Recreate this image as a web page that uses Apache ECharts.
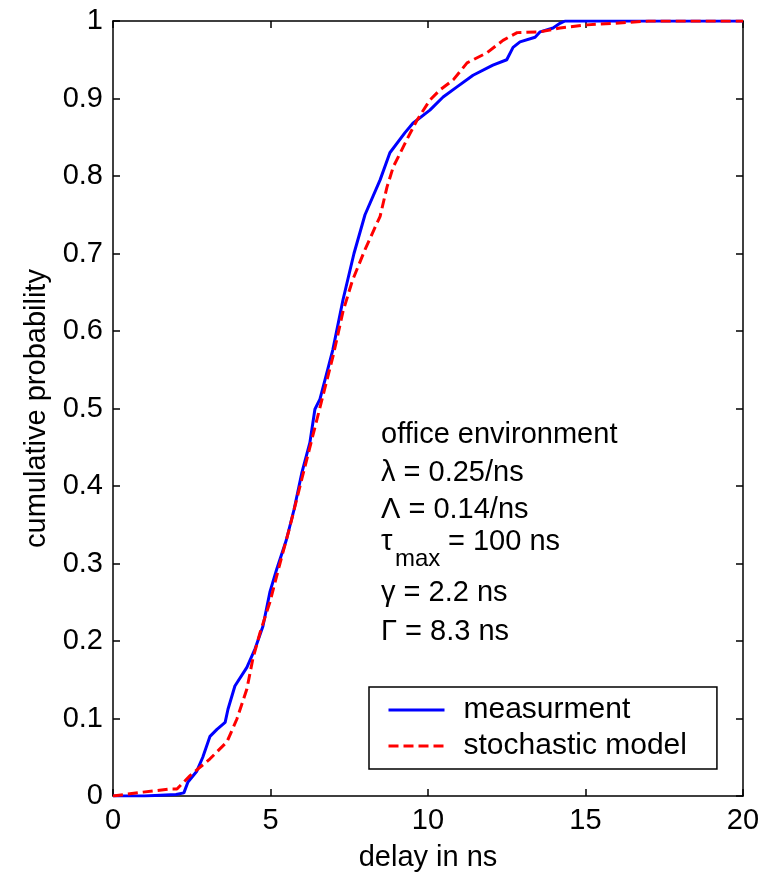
<!DOCTYPE html>
<html>
<head>
<meta charset="utf-8">
<script src="https://cdn.jsdelivr.net/npm/echarts@6/dist/echarts.min.js"></script>
<style>
html,body{margin:0;padding:0;background:#fff;}
#chart{width:773px;height:877px;}
</style>
</head>
<body>
<div id="chart"></div>
<script>
// ---- data ----
const seriesNames = ['measurment', 'stochastic model'];
const xTicks = ['0', '5', '10', '15', '20'];
const yTicks = ['0', '0.1', '0.2', '0.3', '0.4', '0.5', '0.6', '0.7', '0.8', '0.9', '1'];
const xAxisTitle = 'delay in ns';
const yAxisTitle = 'cumulative probability';

const measX = [0, 1.0, 2.0, 2.25, 2.38, 2.66, 2.85, 3.08, 3.3, 3.56, 3.65, 3.87, 4.25, 4.51, 4.76, 4.98, 5.2, 5.5, 5.75, 6.0, 6.25, 6.41, 6.57, 6.73, 6.98, 7.3, 7.65, 8.0, 8.48, 8.79, 9.27, 9.52, 10.06, 10.48, 10.92, 11.43, 12.06, 12.5, 12.7, 12.92, 13.4, 13.56, 13.97, 14.19, 14.35, 20];
const measY = [0, 0, 0.002, 0.004, 0.018, 0.032, 0.05, 0.077, 0.086, 0.095, 0.112, 0.142, 0.166, 0.19, 0.219, 0.263, 0.293, 0.33, 0.37, 0.418, 0.456, 0.499, 0.512, 0.537, 0.576, 0.64, 0.70, 0.75, 0.795, 0.83, 0.856, 0.868, 0.885, 0.902, 0.915, 0.93, 0.943, 0.95, 0.966, 0.973, 0.979, 0.986, 0.991, 0.997, 1, 1];

const modelX = [0, 0.95, 1.8, 2.03, 2.44, 3.08, 3.62, 3.93, 4.25, 4.44, 4.67, 4.98, 5.3, 5.6, 6.0, 6.5, 7.0, 7.3, 7.6, 8.0, 8.48, 8.7, 8.9, 9.33, 9.65, 10.06, 10.38, 10.8, 11.24, 11.87, 12.38, 12.83, 13.56, 14.19, 15.05, 15.9, 17, 20];
const modelY = [0, 0.005, 0.009, 0.009, 0.026, 0.048, 0.07, 0.099, 0.138, 0.177, 0.211, 0.25, 0.30, 0.345, 0.41, 0.49, 0.57, 0.625, 0.665, 0.705, 0.748, 0.786, 0.812, 0.847, 0.872, 0.898, 0.911, 0.924, 0.946, 0.959, 0.975, 0.985, 0.986, 0.991, 0.995, 0.997, 1, 1];

const annotLines = ['office environment', 'λ = 0.25/ns', 'Λ = 0.14/ns', 'τ', 'max', '= 100 ns', 'γ = 2.2 ns', 'Γ = 8.3 ns'];

// ---- chart ----
const FONT = '"Liberation Sans", Arial, sans-serif';
const FS = 29;
const chart = echarts.init(document.getElementById('chart'), null, {renderer: 'canvas'});

const tickStyle = {show: true, inside: true, length: 7, lineStyle: {color: '#000', width: 1.5}};
const lineStyle = {show: true, onZero: false, lineStyle: {color: '#000', width: 1.5}};

function txt(text, left, cy, size) {
  return {
    type: 'text', left: left, top: cy - (size || FS) / 2,
    style: {text: text, font: (size || FS) + 'px ' + FONT, fill: '#000'}
  };
}

const option = {
  backgroundColor: '#fff',
  animation: false,
  grid: {left: 113, top: 21, width: 630, height: 776, containLabel: false},
  xAxis: [{
    type: 'value', position: 'bottom', min: 0, max: 20, interval: 5,
    axisLine: lineStyle, axisTick: tickStyle, splitLine: {show: false},
    axisLabel: {color: '#000', fontSize: FS, fontFamily: FONT, margin: 10,
      formatter: v => xTicks[Math.round(v / 5)]},
    name: xAxisTitle, nameLocation: 'middle', nameGap: 47,
    nameTextStyle: {color: '#000', fontSize: FS, fontFamily: FONT}
  }, {
    type: 'value', position: 'top', min: 0, max: 20, interval: 5,
    axisLine: lineStyle, axisTick: tickStyle, splitLine: {show: false},
    axisLabel: {show: false}
  }],
  yAxis: [{
    type: 'value', position: 'left', min: 0, max: 1, interval: 0.1,
    axisLine: lineStyle, axisTick: tickStyle, splitLine: {show: false},
    axisLabel: {color: '#000', fontSize: FS, fontFamily: FONT, margin: 10,
      formatter: v => yTicks[Math.round(v * 10)]},
    name: yAxisTitle, nameLocation: 'middle', nameGap: 62,
    nameTextStyle: {color: '#000', fontSize: FS, fontFamily: FONT}
  }, {
    type: 'value', position: 'right', min: 0, max: 1, interval: 0.1,
    axisLine: lineStyle, axisTick: tickStyle, splitLine: {show: false},
    axisLabel: {show: false}
  }],
  legend: {
    left: 369, top: 687, orient: 'vertical',
    padding: [8, 30, 8, 18], itemGap: 6, itemWidth: 56, itemHeight: 2,
    borderColor: '#000', borderWidth: 1.5, borderRadius: 0, backgroundColor: '#fff',
    itemStyle: {color: 'rgba(0,0,0,0)', borderWidth: 0, opacity: 0},
    lineStyle: {width: 3},
    textStyle: {color: '#000', fontSize: 30, fontFamily: FONT, padding: [0, 0, 0, 14]},
    data: seriesNames
  },
  series: [{
    name: seriesNames[0], type: 'line', symbol: 'none', xAxisIndex: 0, yAxisIndex: 0,
    lineStyle: {color: '#0000ff', width: 3}, itemStyle: {color: '#0000ff'},
    data: measX.map((x, i) => [x, measY[i]]), z: 3
  }, {
    name: seriesNames[1], type: 'line', symbol: 'none', xAxisIndex: 0, yAxisIndex: 0,
    lineStyle: {color: '#ff0000', width: 3, type: [10, 5]}, itemStyle: {color: '#ff0000'},
    data: modelX.map((x, i) => [x, modelY[i]]), z: 4
  }],
  graphic: [
    txt(annotLines[0], 381, 435),
    txt(annotLines[1], 381, 473),
    txt(annotLines[2], 381, 510),
    txt(annotLines[3], 381, 542),
    txt(annotLines[4], 395, 559, 24),
    txt(annotLines[5], 448, 542),
    txt(annotLines[6], 381, 593),
    txt(annotLines[7], 381, 632)
  ]
};
chart.setOption(option);
</script>
</body>
</html>
